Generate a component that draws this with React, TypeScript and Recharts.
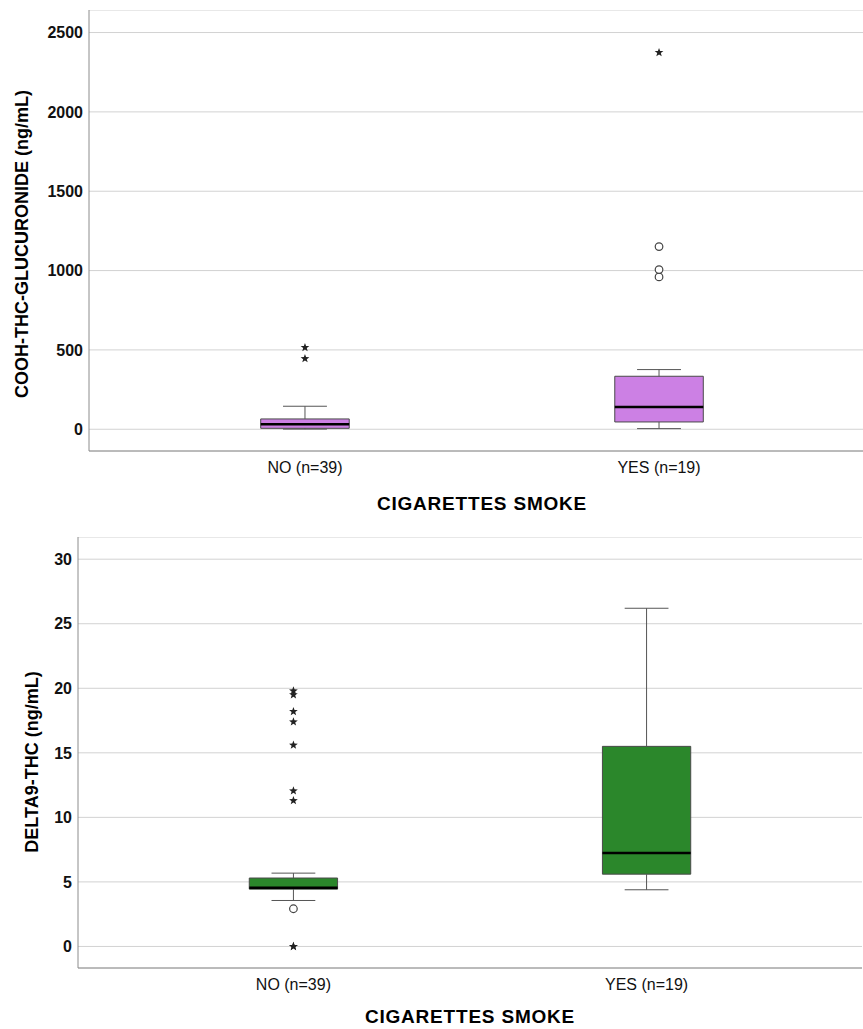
import React from 'react'
import {
  ComposedChart, XAxis, YAxis, CartesianGrid, ReferenceArea, ReferenceLine,
  Scatter, Label,
} from 'recharts'

const CATEGORIES = ['NO (n=39)', 'YES (n=19)']
const X_TITLE = 'CIGARETTES SMOKE'

// COOH-THC-glucuronide (ng/mL), one entry per category
const GLUC_MIN = [1, 4]
const GLUC_Q1 = [6, 46]
const GLUC_MEDIAN = [31, 140]
const GLUC_Q3 = [65, 334]
const GLUC_MAX = [145, 376]
const GLUC_OUTLIERS = [[], [960, 1006, 1151]]
const GLUC_EXTREMES = [[445, 515], [2374]]
const GLUC_TICKS = [0, 500, 1000, 1500, 2000, 2500]

// delta9-THC (ng/mL)
const THC_MIN = [3.56, 4.39]
const THC_Q1 = [4.44, 5.6]
const THC_MEDIAN = [4.55, 7.23]
const THC_Q3 = [5.3, 15.5]
const THC_MAX = [5.68, 26.2]
const THC_OUTLIERS = [[2.92], []]
const THC_EXTREMES = [[0, 0, 11.3, 12.05, 15.6, 17.4, 18.2, 19.5, 19.8], []]
const THC_TICKS = [0, 5, 10, 15, 20, 25, 30]

const FONT = '"Liberation Sans", Arial, sans-serif'
const X_DOMAIN = [0.39, 2.61]
const BOX_HALF = 0.125
const CAP_HALF = 0.062
const AXIS_COLOR = '#8c8c8c'
const WHISKER = '#555'

function starPath(cx: number, cy: number, R: number, r: number) {
  const pts: string[] = []
  for (let k = 0; k < 10; k++) {
    const rad = k % 2 === 0 ? R : r
    const a = -Math.PI / 2 + (k * Math.PI) / 5
    pts.push(`${(cx + rad * Math.cos(a)).toFixed(2)},${(cy + rad * Math.sin(a)).toFixed(2)}`)
  }
  return 'M' + pts.join('L') + 'Z'
}

const StarShape = (props: any) => (
  <path d={starPath(props.cx, props.cy, 4.6, 1.9)} fill="#222" />
)

const CircleShape = (props: any) => (
  <circle cx={props.cx} cy={props.cy} r={3.8} fill="#fff" stroke="#444" strokeWidth={1.2} />
)

const toPoints = (groups: number[][]) =>
  groups.flatMap((vals, i) => vals.map((y) => ({ x: i + 1, y })))

interface Stats {
  min: number[]
  q1: number[]
  median: number[]
  q3: number[]
  max: number[]
  outliers: number[][]
  extremes: number[][]
}

interface PanelProps {
  stats: Stats
  fill: string
  yDomain: number[]
  yTicks: number[]
  yLabel: string
  yLabelX: number
  yLabelY: number
  width: number
  height: number
  top: number
  yAxisWidth: number
  xAxisHeight: number
  titleOffset: number
}

function BoxPanel(p: PanelProps) {
  const { stats } = p
  const boxes = CATEGORIES.flatMap((_, i) => {
    const c = i + 1
    return [
      <ReferenceLine key={`wu${i}`} segment={[{ x: c, y: stats.q3[i] }, { x: c, y: stats.max[i] }]} stroke={WHISKER} strokeWidth={1} />,
      <ReferenceLine key={`wl${i}`} segment={[{ x: c, y: stats.min[i] }, { x: c, y: stats.q1[i] }]} stroke={WHISKER} strokeWidth={1} />,
      <ReferenceLine key={`cu${i}`} segment={[{ x: c - CAP_HALF, y: stats.max[i] }, { x: c + CAP_HALF, y: stats.max[i] }]} stroke={WHISKER} strokeWidth={1} />,
      <ReferenceLine key={`cl${i}`} segment={[{ x: c - CAP_HALF, y: stats.min[i] }, { x: c + CAP_HALF, y: stats.min[i] }]} stroke={WHISKER} strokeWidth={1} />,
      <ReferenceArea key={`b${i}`} x1={c - BOX_HALF} x2={c + BOX_HALF} y1={stats.q1[i]} y2={stats.q3[i]}
        fill={p.fill} fillOpacity={1} stroke="#4a4a4a" strokeWidth={1} />,
      <ReferenceLine key={`m${i}`} segment={[{ x: c - BOX_HALF, y: stats.median[i] }, { x: c + BOX_HALF, y: stats.median[i] }]} stroke="#000" strokeWidth={2.5} />,
    ]
  })

  return (
    <div style={{ position: 'absolute', left: 0, top: p.top }}>
      <ComposedChart width={p.width} height={p.height} margin={{ top: 0, right: 1, bottom: 0, left: 0 }}>
        <CartesianGrid vertical={false} stroke="#d2d2d2" />
        <XAxis
          type="number" dataKey="x" domain={X_DOMAIN} ticks={[1, 2]} allowDataOverflow interval={0}
          tickFormatter={(v) => CATEGORIES[v - 1]}
          tickLine={false} tickSize={0} tickMargin={11} height={p.xAxisHeight}
          axisLine={{ stroke: AXIS_COLOR }}
          tick={{ fill: '#111', fontSize: 16, fontFamily: FONT }}
        >
          <Label value={X_TITLE} position="insideBottom" offset={p.titleOffset}
            style={{ fill: '#000', fontSize: 19, fontWeight: 700, fontFamily: FONT, letterSpacing: 0.8 }} />
        </XAxis>
        <YAxis
          type="number" dataKey="y" domain={p.yDomain} ticks={p.yTicks} allowDataOverflow interval={0}
          width={p.yAxisWidth} tickLine={false} tickSize={0} tickMargin={6}
          axisLine={{ stroke: AXIS_COLOR }}
          tick={{ fill: '#111', fontSize: 16, fontWeight: 700, fontFamily: FONT }}
        >
          <Label content={() => (
            <text x={p.yLabelX} y={p.yLabelY} transform={`rotate(-90 ${p.yLabelX} ${p.yLabelY})`}
              textAnchor="middle" fill="#000" fontSize={18} fontWeight={700} fontFamily={FONT}>
              {p.yLabel}
            </text>
          )} />
        </YAxis>
        {boxes}
        <Scatter data={toPoints(stats.outliers)} shape={CircleShape} isAnimationActive={false} />
        <Scatter data={toPoints(stats.extremes)} shape={StarShape} isAnimationActive={false} />
      </ComposedChart>
    </div>
  )
}

export default function App() {
  return (
    <div style={{ position: 'absolute', left: 0, top: 0, width: 863, height: 1029, overflow: 'hidden', background: '#fff' }}>
      <BoxPanel
        stats={{ min: GLUC_MIN, q1: GLUC_Q1, median: GLUC_MEDIAN, q3: GLUC_Q3, max: GLUC_MAX, outliers: GLUC_OUTLIERS, extremes: GLUC_EXTREMES }}
        fill="#cc80e4"
        yDomain={[-137, 2642]} yTicks={GLUC_TICKS}
        yLabel="COOH-THC-GLUCURONIDE (ng/mL)" yLabelX={27.5} yLabelY={234}
        width={876} height={515} top={10} yAxisWidth={89} xAxisHeight={74} titleOffset={15}
      />
      <BoxPanel
        stats={{ min: THC_MIN, q1: THC_Q1, median: THC_MEDIAN, q3: THC_Q3, max: THC_MAX, outliers: THC_OUTLIERS, extremes: THC_EXTREMES }}
        fill="#2b872b"
        yDomain={[-1.67, 31.72]} yTicks={THC_TICKS}
        yLabel="DELTA9-THC (ng/mL)" yLabelX={38} yLabelY={225}
        width={863} height={492} top={537} yAxisWidth={78} xAxisHeight={61} titleOffset={6}
      />
    </div>
  )
}
